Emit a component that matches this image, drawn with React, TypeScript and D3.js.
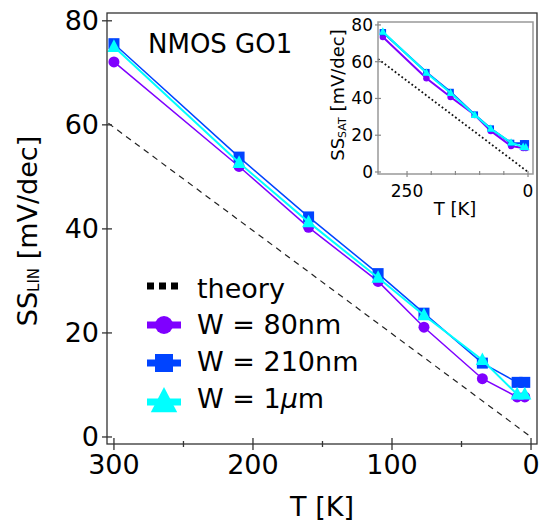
import React from "react";
import * as d3 from "d3";

// ---- data ----
const temps = [300, 210, 160, 110, 77, 35, 10, 4.5];
const ssLin80 = [72.1, 52.0, 40.3, 29.9, 21.1, 11.2, 7.7, 7.7];
const ssLin210 = [75.6, 53.8, 42.3, 31.4, 23.8, 14.2, 10.5, 10.5];
const ssLin1u = [75.0, 52.7, 41.3, 30.6, 23.4, 14.8, 8.2, 8.2];
const ssSat80 = [73.4, 51.0, 40.8, 31.0, 22.3, 14.1, 13.0, 13.0];
const ssSat210 = [76.0, 54.3, 43.5, 31.2, 23.6, 15.8, 15.6, 15.6];
const ssSat1u = [76.3, 54.0, 43.0, 31.0, 23.5, 16.0, 13.6, 13.4];
const theoryLinT = [304, 0];
const theoryLinV = [60.3, 0];
const theorySatT = [310, 0];
const theorySatV = [61.5, 0];
const yTicks = [0, 20, 40, 60, 80];
const xTicksMain = [300, 200, 100, 0];
const xMinorMain = [250, 150, 50];
const xTicksInset = [250, 0];
const xMinorInset = [200, 150, 100, 50];
const legendLabels = ["theory", "W = 80nm", "W = 210nm", "W = 1"];

const FONT = "DejaVu Sans";
const PURPLE = "#7f00ff";
const BLUE = "#0044ff";
const CYAN = "#00ffff";

const series = [
  { name: "80", color: PURPLE, lin: ssLin80, sat: ssSat80, shape: "circle", lw: 1.5 },
  { name: "210", color: BLUE, lin: ssLin210, sat: ssSat210, shape: "square", lw: 1.5 },
  { name: "1u", color: CYAN, lin: ssLin1u, sat: ssSat1u, shape: "triangle", lw: 2 },
];

function Marker({ shape, cx, cy, s, color }: any) {
  if (shape === "circle") return <circle cx={cx} cy={cy} r={s * 0.5} fill={color} />;
  if (shape === "square")
    return <rect x={cx - s / 2} y={cy - s / 2} width={s} height={s} fill={color} />;
  const w = s * 1.2;
  const h = s * 1.1;
  return (
    <path
      d={`M${cx},${cy - h * 0.62} L${cx + w / 2},${cy + h * 0.42} L${cx - w / 2},${cy + h * 0.42} Z`}
      fill={color}
    />
  );
}

export default function App() {
  // main scales
  const x = d3.scaleLinear().domain([305, -4.3]).range([107, 537]);
  const y = d3.scaleLinear().domain([-1.35, 81.5]).range([444, 13]);
  // inset scales
  const xi = d3.scaleLinear().domain([310, -10.3]).range([378, 533]);
  const yi = d3.scaleLinear().domain([-1.1, 81.6]).range([174, 22]);

  const lineMain = (vals: number[], ts: number[] = temps) =>
    d3.line<number>().x((_, i) => x(ts[i])).y((v) => y(v))(vals) as string;
  const lineInset = (vals: number[], ts: number[] = temps) =>
    d3.line<number>().x((_, i) => xi(ts[i])).y((v) => yi(v))(vals) as string;

  const legendY = [286, 325, 363, 402];
  const legendBase = [298, 334, 371, 408];

  return (
    <svg
      width={544}
      height={524}
      style={{ position: "absolute", left: 0, top: 0, background: "#fff" }}
      fontFamily={FONT}
    >
      <rect x={0} y={0} width={544} height={524} fill="#fff" />

      {/* main theory */}
      <path
        d={lineMain(theoryLinV, theoryLinT)}
        fill="none"
        stroke="#222"
        strokeWidth={1.2}
        strokeDasharray="6,5"
      />
      {/* main series */}
      {series.map((s) => (
        <g key={"m" + s.name}>
          <path d={lineMain(s.lin)} fill="none" stroke={s.color} strokeWidth={s.lw} />
          {s.lin.map((v, i) => (
            <Marker key={i} shape={s.shape} cx={x(temps[i])} cy={y(v)} s={11} color={s.color} />
          ))}
        </g>
      ))}

      {/* main frame */}
      <rect x={107} y={13} width={430} height={431} fill="none" stroke="#333" strokeWidth={1.3} />
      {yTicks.map((t) => (
        <g key={"yt" + t}>
          <line x1={102} x2={112} y1={y(t)} y2={y(t)} stroke="#333" strokeWidth={1.3} />
          <text x={99} y={y(t)} textAnchor="end" dominantBaseline="central" fontSize={27}>
            {t}
          </text>
        </g>
      ))}
      {xTicksMain.map((t) => (
        <g key={"xt" + t}>
          <line x1={x(t)} x2={x(t)} y1={438} y2={450} stroke="#333" strokeWidth={1.3} />
          <text x={x(t)} y={474} textAnchor="middle" fontSize={27}>
            {t}
          </text>
        </g>
      ))}
      {xMinorMain.map((t) => (
        <line key={"xm" + t} x1={x(t)} x2={x(t)} y1={441} y2={447} stroke="#333" strokeWidth={1.3} />
      ))}
      <text x={322} y={516} textAnchor="middle" fontSize={27}>
        T [K]
      </text>
      <text transform="translate(37,231) rotate(-90)" textAnchor="middle" fontSize={27}>
        SS
        <tspan fontSize={15} dy={2}>
          LIN
        </tspan>
        <tspan dy={-2}> [mV/dec]</tspan>
      </text>
      <text x={148} y={53} fontSize={26}>
        NMOS GO1
      </text>

      {/* legend */}
      <line
        x1={147}
        x2={181}
        y1={legendY[0]}
        y2={legendY[0]}
        stroke="#000"
        strokeWidth={7}
        strokeDasharray="7,5"
      />
      {series.map((s, k) => (
        <g key={"lg" + s.name}>
          <line
            x1={147}
            x2={181}
            y1={legendY[k + 1]}
            y2={legendY[k + 1]}
            stroke={s.color}
            strokeWidth={7}
          />
          <Marker shape={s.shape} cx={164} cy={legendY[k + 1]} s={s.shape === "triangle" ? 22 : 18} color={s.color} />
        </g>
      ))}
      {legendLabels.map((l, k) => (
        <text key={"ll" + k} x={197} y={legendBase[k]} fontSize={27}>
          {l}
          {k === 3 ? (
            <>
              <tspan fontStyle="italic">μ</tspan>m
            </>
          ) : null}
        </text>
      ))}

      {/* inset */}
      <path
        d={lineInset(theorySatV, theorySatT)}
        fill="none"
        stroke="#111"
        strokeWidth={1.8}
        strokeDasharray="1.8,2.4"
      />
      {series.map((s) => (
        <g key={"i" + s.name}>
          <path d={lineInset(s.sat)} fill="none" stroke={s.color} strokeWidth={2} />
          {s.sat.map((v, i) => (
            <Marker key={i} shape={s.shape} cx={xi(temps[i])} cy={yi(v)} s={6.5} color={s.color} />
          ))}
        </g>
      ))}
      <rect x={378} y={22} width={155} height={152} fill="none" stroke="#999" strokeWidth={1.5} />
      {yTicks.map((t) => (
        <g key={"iyt" + t}>
          <line x1={375} x2={381} y1={yi(t)} y2={yi(t)} stroke="#888" strokeWidth={1.2} />
          <text x={373} y={yi(t)} textAnchor="end" dominantBaseline="central" fontSize={17}>
            {t}
          </text>
        </g>
      ))}
      {xTicksInset.map((t) => (
        <g key={"ixt" + t}>
          <line x1={xi(t)} x2={xi(t)} y1={171} y2={177} stroke="#888" strokeWidth={1.2} />
          <text x={xi(t)} y={197} textAnchor="middle" fontSize={17}>
            {t}
          </text>
        </g>
      ))}
      {xMinorInset.map((t) => (
        <line key={"ixm" + t} x1={xi(t)} x2={xi(t)} y1={171} y2={175} stroke="#888" strokeWidth={1.2} />
      ))}
      <text x={455} y={215} textAnchor="middle" fontSize={18}>
        T [K]
      </text>
      <text transform="translate(344,95) rotate(-90)" textAnchor="middle" fontSize={18}>
        SS
        <tspan fontSize={11} dy={2}>
          SAT
        </tspan>
        <tspan dy={-2}> [mV/dec]</tspan>
      </text>
    </svg>
  );
}
